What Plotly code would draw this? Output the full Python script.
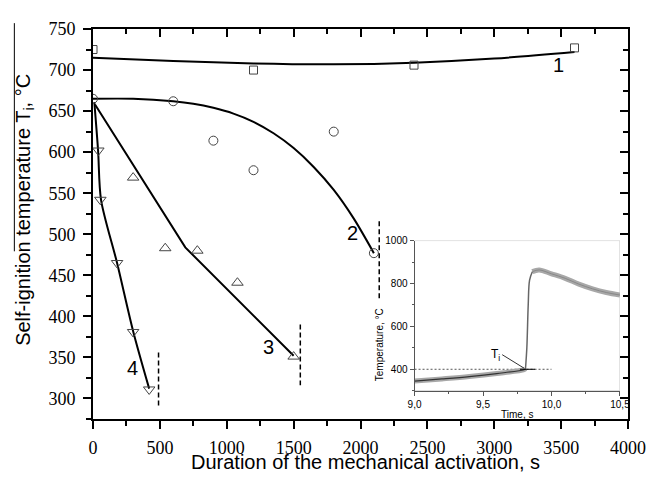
import plotly.graph_objects as go

# ---- main data ----
s1_x = [0, 1200, 2400, 3600]
s1_y = [725, 700, 706, 727]
c1_x = [0, 600, 1200, 1800, 2400, 3000, 3600]
c1_y = [715, 711, 708, 707, 709, 714, 722]

s2_x = [0, 600, 900, 1200, 1800, 2100]
s2_y = [665, 662, 614, 578, 625, 477]
c2_x = [0, 300, 600, 750, 900, 1050, 1200, 1350, 1500, 1650, 1800, 1950, 2100]
c2_y = [665, 665, 662, 659, 654, 647, 637, 623, 605, 582, 554, 519, 477]

s3_x = [300, 540, 780, 1080, 1500]
s3_y = [569, 483, 480, 441, 351]
c3_x = [15, 690, 1500]
c3_y = [658, 484, 352]

s4_x = [40, 55, 180, 300, 420]
s4_y = [602, 542, 465, 381, 311]
c4_x = [10, 38, 60, 180, 300, 420]
c4_y = [661, 602, 542, 465, 382, 312]

dash_x = [[2140, 2140], [1550, 1550], [490, 490]]
dash_y = [[516, 420], [390, 316], [356, 290]]

lab_text = ["1", "2", "3", "4"]
lab_x = [3480, 1940, 1313, 292]
lab_y = [706, 502, 363, 337]

x_ticks = [0, 500, 1000, 1500, 2000, 2500, 3000, 3500, 4000]
y_ticks = [300, 350, 400, 450, 500, 550, 600, 650, 700, 750]

# ---- inset data ----
in_pre_x = [9.0, 9.2, 9.4, 9.6, 9.8, 9.81]
in_pre_y = [345, 355, 366, 380, 398, 402]
in_jump_x = [9.81, 9.82, 9.83, 9.84, 9.86]
in_jump_y = [402, 500, 700, 816, 855]
in_post_x = [9.86, 9.91, 10.0, 10.1, 10.2, 10.3, 10.4, 10.5]
in_post_y = [855, 863, 845, 824, 797, 775, 758, 746]
in_ref_x = [9.0, 10.0]
in_ref_y = [400, 400]
in_tan_x = [9.77, 9.88]
in_tan_y = [400, 400]
in_xticks = [9.0, 9.5, 10.0, 10.5]
in_xtext = ["9,0", "9,5", "10,0", "10,5"]
in_yticks = [400, 600, 800, 1000]

fig = go.Figure()

# curves
for cx, cy, shape in [(c1_x, c1_y, "spline"), (c2_x, c2_y, "spline"),
                      (c3_x, c3_y, "linear"), (c4_x, c4_y, "spline")]:
    fig.add_trace(go.Scatter(x=cx, y=cy, mode="lines",
                             line=dict(color="black", width=2, shape=shape, smoothing=0.8),
                             showlegend=False, hoverinfo="skip"))
# markers
for sx, sy, sym, sz in [(s1_x, s1_y, "square-open", 8), (s2_x, s2_y, "circle-open", 9),
                        (s3_x, s3_y, "triangle-up-open", 10), (s4_x, s4_y, "triangle-down-open", 10)]:
    fig.add_trace(go.Scatter(x=sx, y=sy, mode="markers",
                             marker=dict(symbol=sym, size=sz, color="#444", line=dict(color="#444", width=1)),
                             showlegend=False))
# dashed lines
for dx, dy in zip(dash_x, dash_y):
    fig.add_trace(go.Scatter(x=dx, y=dy, mode="lines", line=dict(color="black", width=1.5, dash="5px,3px"),
                             showlegend=False, hoverinfo="skip"))

# dummy traces for mirrored axes
fig.add_trace(go.Scatter(x=[None], y=[None], xaxis="x2", yaxis="y", showlegend=False))
fig.add_trace(go.Scatter(x=[None], y=[None], xaxis="x", yaxis="y2", showlegend=False))

# inset traces
fig.add_trace(go.Scatter(x=in_ref_x, y=in_ref_y, xaxis="x3", yaxis="y3", mode="lines",
                         line=dict(color="#555", width=1, dash="2px,2px"), showlegend=False))
fig.add_trace(go.Scatter(x=in_pre_x, y=in_pre_y, xaxis="x3", yaxis="y3", mode="lines",
                         line=dict(color="#a8a8a8", width=5, shape="spline"), showlegend=False))
fig.add_trace(go.Scatter(x=in_post_x, y=in_post_y, xaxis="x3", yaxis="y3", mode="lines",
                         line=dict(color="#a8a8a8", width=5, shape="spline"), showlegend=False))
fig.add_trace(go.Scatter(x=in_pre_x, y=in_pre_y, xaxis="x3", yaxis="y3", mode="lines",
                         line=dict(color="#333", width=1.2, shape="spline"), showlegend=False))
fig.add_trace(go.Scatter(x=in_jump_x, y=in_jump_y, xaxis="x3", yaxis="y3", mode="lines",
                         line=dict(color="#666", width=1.5, shape="spline"), showlegend=False))
fig.add_trace(go.Scatter(x=in_post_x, y=in_post_y, xaxis="x3", yaxis="y3", mode="lines",
                         line=dict(color="#888", width=1, shape="spline"), showlegend=False))
fig.add_trace(go.Scatter(x=in_tan_x, y=in_tan_y, xaxis="x3", yaxis="y3", mode="lines",
                         line=dict(color="black", width=1), showlegend=False))

serif = dict(family="Liberation Serif", size=18, color="black")
sans = "Liberation Sans"

axis_common = dict(showgrid=False, zeroline=False, showline=True, linecolor="black", linewidth=2,
                   ticklen=8, tickwidth=1.5, tickcolor="black")

# the page body has an 8px default margin, so the figure is sized to fit the 657x483 window
fig.update_layout(
    width=649, height=475,
    margin=dict(l=85, r=20, t=11, b=64),
    paper_bgcolor="white", plot_bgcolor="white",
    xaxis=dict(range=[0, 4000], tickvals=x_ticks, ticks="outside", tickfont=serif, ticklabelstandoff=3,
               minor=dict(ticks="outside", ticklen=5, dtick=250, tick0=0, tickcolor="black", tickwidth=1.5),
               **axis_common),
    yaxis=dict(range=[275, 750], tickvals=y_ticks, ticks="outside", tickfont=serif, ticklabelstandoff=4,
               minor=dict(ticks="outside", ticklen=5, dtick=25, tick0=275, tickcolor="black", tickwidth=1.5),
               **axis_common),
    xaxis2=dict(range=[0, 4000], overlaying="x", side="top", anchor="y", tickvals=x_ticks, ticks="inside",
                showticklabels=False,
                minor=dict(ticks="inside", ticklen=5, dtick=250, tick0=0, tickcolor="black", tickwidth=1.5),
                **axis_common),
    yaxis2=dict(range=[275, 750], overlaying="y", side="right", anchor="x", tickvals=y_ticks, ticks="inside",
                showticklabels=False,
                minor=dict(ticks="inside", ticklen=5, dtick=25, tick0=275, tickcolor="black", tickwidth=1.5),
                **axis_common),
    xaxis3=dict(domain=[0.601, 0.985], anchor="y3", range=[9.0, 10.5], tickvals=in_xticks, ticktext=in_xtext,
                ticks="outside", ticklen=4, tickcolor="#555", showline=True, linecolor="#555", linewidth=1,
                showgrid=False, zeroline=False, tickfont=dict(family=sans, size=10, color="black"),
                minor=dict(ticks="outside", ticklen=2, dtick=0.25, tick0=9.0, tickcolor="#555"),
                title=dict(text="Time, s", font=dict(family=sans, size=10, color="black"), standoff=2)),
    yaxis3=dict(domain=[0.0725, 0.4575], anchor="x3", range=[300, 1000], tickvals=in_yticks,
                ticks="outside", ticklen=4, tickcolor="#555", showline=True, linecolor="#555", linewidth=1,
                showgrid=False, zeroline=False, tickfont=dict(family=sans, size=10, color="black"),
                minor=dict(ticks="outside", ticklen=2, dtick=100, tick0=300, tickcolor="#555")),
)

# inset light frame (top/right)
fig.add_shape(type="rect", xref="x3", yref="y3", x0=9.0, x1=10.5, y0=300, y1=1000,
              line=dict(color="#c8c8c8", width=1), layer="below")

# overline of the y title
fig.add_shape(type="line", xref="paper", yref="paper", x0=-0.147, x1=-0.147, y0=1.015, y1=0.43,
              line=dict(color="black", width=1))

# curve labels
for t, lx, ly in zip(lab_text, lab_x, lab_y):
    fig.add_annotation(x=lx, y=ly, text=t, showarrow=False, xanchor="center", yanchor="middle",
                       font=dict(family=sans, size=20, color="black"))

# axis titles
fig.add_annotation(xref="paper", yref="paper", x=-0.128, y=0.535, textangle=-90, showarrow=False,
                   xanchor="center", yanchor="middle",
                   text="Self-ignition temperature T<sub>i</sub>, °C",
                   font=dict(family=sans, size=20, color="black"))
fig.add_annotation(xref="paper", yref="paper", x=0.509, y=-0.11, showarrow=False,
                   xanchor="center", yanchor="middle",
                   text="Duration of the mechanical activation, s",
                   font=dict(family=sans, size=20, color="black"))
fig.add_annotation(xref="paper", yref="paper", x=0.537, y=0.19, textangle=-90, showarrow=False,
                   xanchor="center", yanchor="middle",
                   text="Temperature, °C", font=dict(family=sans, size=10, color="black"))
# Ti label in inset
fig.add_annotation(xref="x3", yref="y3", x=9.80, y=405, ax=9.64, ay=468, axref="x3", ayref="y3",
                   text="T<sub>i</sub>", showarrow=True, arrowhead=0, arrowwidth=1, arrowcolor="#333",
                   font=dict(family=sans, size=12, color="black"), xanchor="right")

fig.write_html("out.html")
